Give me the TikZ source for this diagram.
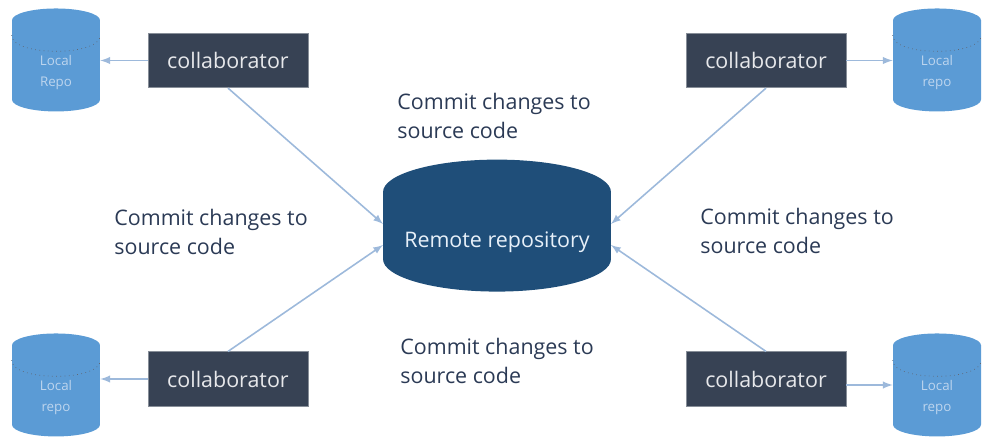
\documentclass[tikz,border=0pt]{standalone}
\usepackage{fontspec}
\setmainfont{Open Sans}
\usetikzlibrary{arrows}
\usetikzlibrary{shapes.geometric}
\definecolor{boxdark}{HTML}{374254}
\definecolor{remoteblue}{HTML}{1F4E79}
\definecolor{localblue}{HTML}{5B9BD5}
\definecolor{linkblue}{HTML}{9DB9DB}
\definecolor{labeldark}{HTML}{2B3A55}
\definecolor{localtext}{HTML}{BDD5EE}
\tikzset{
    collab/.style = {fill=boxdark, draw=boxdark!60!white, line width=0.4pt, text=white!88!boxdark, minimum width=3.2cm, minimum height=1.09cm, inner sep=0pt, font=\fontsize{12.2}{14}\selectfont},
    localrepo/.style = {cylinder, shape border rotate=90, aspect=0.73, fill=localblue, text=localtext, minimum width=1.76cm, minimum height=2.06cm, inner sep=0pt, align=center, text height=0.9cm, text depth=0.1cm, font=\fontsize{7.6}{11.5}\selectfont},
    remoterepo/.style = {cylinder, shape border rotate=90, aspect=0.35, fill=remoteblue, text=white!85!localblue, minimum width=4.56cm, minimum height=2.64cm, inner sep=0pt, font=\fontsize{12.2}{14}\selectfont},
    link/.style = {-latex, draw=linkblue, line width=0.9pt},
    toprim/.style = {dotted, draw=boxdark!80, line width=0.4pt},
    note/.style = {anchor=west, align=left, text=labeldark, inner sep=0pt, font=\fontsize{12.2}{16.5}\selectfont}
}
\begin{document}
\begin{tikzpicture}[x=0.02cm, y=-0.02cm]
    \useasboundingbox (0,0) rectangle (1008,447);

    \node[remoterepo] (remote) at (497,242) {Remote repository};

    \node[collab] (collabTL) at (228,60.5) {collaborator};
    \node[collab] (collabTR) at (766,60.5) {collaborator};
    \node[collab] (collabBL) at (228,379) {collaborator};
    \node[collab] (collabBR) at (766,379) {collaborator};

    \node[localrepo] (localTL) at (56,66) {Local\\Repo};
    \node[localrepo] (localTR) at (937,66) {Local\\repo};
    \node[localrepo] (localBL) at (56,391) {Local\\repo};
    \node[localrepo] (localBR) at (937,391) {Local\\repo};

    \foreach \corner in {TL,TR,BL,BR}
        \draw[toprim] ([yshift=-0.3cm]local\corner.before top) to[out=-90, in=-90, distance=0.43cm] ([yshift=-0.3cm]local\corner.after top);

    \node[note] (noteT) at (397,115.5) {Commit changes to\\source code};
    \node[note] (noteL) at (114,232) {Commit changes to\\source code};
    \node[note] (noteR) at (700,231) {Commit changes to\\source code};
    \node[note] (noteB) at (400,361) {Commit changes to\\source code};

    \coordinate (inTL) at (383,224);
    \coordinate (inBL) at (383,245);
    \coordinate (inTR) at (611,224);
    \coordinate (inBR) at (611,245);
    \coordinate (outBR) at (846,385);

    \draw[link] (collabTL.south) -- (inTL);
    \draw[link] (collabBL.north) -- (inBL);
    \draw[link] (collabTR.south) -- (inTR);
    \draw[link] (collabBR.north) -- (inBR);

    \draw[link] (collabTL.west) -- (localTL.east |- collabTL.west);
    \draw[link] (collabTR.east) -- (localTR.west |- collabTR.east);
    \draw[link] (collabBL.west) -- (localBL.east |- collabBL.west);
    \draw[link] (outBR) -- (localBR.west |- outBR);
\end{tikzpicture}
\end{document}
